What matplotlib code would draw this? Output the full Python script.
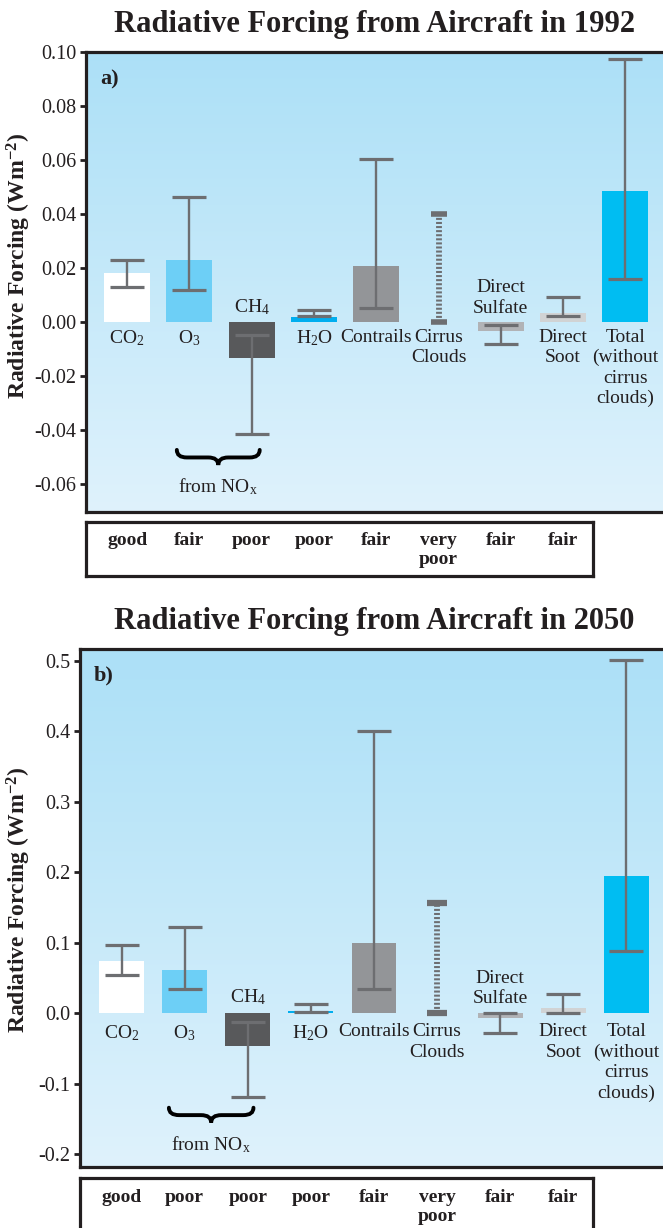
import numpy as np
import matplotlib
matplotlib.use('Agg')
import matplotlib.pyplot as plt
from matplotlib.path import Path
from matplotlib.patches import PathPatch
from matplotlib.ticker import FormatStrFormatter

plt.rcParams['font.family'] = 'Liberation Serif'
plt.rcParams['mathtext.fontset'] = 'custom'
plt.rcParams['mathtext.rm'] = 'Liberation Serif'
plt.rcParams['mathtext.it'] = 'Liberation Serif:italic'
plt.rcParams['mathtext.bf'] = 'Liberation Serif:bold'
plt.rcParams['axes.unicode_minus'] = False

# ---- data ----
labels = ['CO$_2$', 'O$_3$', 'CH$_4$', 'H$_2$O', 'Contrails', 'Cirrus\nClouds',
          'Direct\nSulfate', 'Direct\nSoot', 'Total\n(without\ncirrus\nclouds)']
bar_colors = ['#ffffff', '#6dcff6', '#58595b', '#00aeef', '#939598', 'none',
              '#b1b3b6', '#d1d3d4', '#00bdf2']

rf_1992 = [0.018, 0.023, -0.0135, 0.0018, 0.0205, np.nan, -0.0033, 0.0032, 0.0485]
lo_1992 = [0.013, 0.0117, -0.0416, 0.0021, 0.005, 0.0, -0.0084, 0.0021, 0.0158]
hi_1992 = [0.023, 0.0463, -0.0049, 0.0045, 0.0604, 0.040, -0.0012, 0.009, 0.0973]
conf_1992 = ['good', 'fair', 'poor', 'poor', 'fair', 'very\npoor', 'fair', 'fair']

rf_2050 = [0.074, 0.0615, -0.046, 0.0028, 0.0998, np.nan, -0.007, 0.0075, 0.195]
lo_2050 = [0.0548, 0.034, -0.119, 0.002, 0.034, 0.0, -0.028, 0.0, 0.088]
hi_2050 = [0.0965, 0.122, -0.0128, 0.013, 0.401, 0.156, 0.0, 0.027, 0.501]
conf_2050 = ['good', 'poor', 'poor', 'poor', 'fair', 'very\npoor', 'fair', 'fair']

W, H = 663, 1228
ec = '#6d6e71'
ink = '#231f20'
top_col = np.array([172, 224, 247]) / 255
bot_col = np.array([223, 242, 252]) / 255


def fx(p):
    return p / W


def fy(p):
    return 1 - p / H


def brace(ax, x0, x1, ytop, ybot):
    xm = (x0 + x1) / 2
    ym = (ytop + ybot) / 2
    q = 0.12 * (x1 - x0)
    verts = [(x0, ytop), (x0, ym), (x0 + q, ym), (xm - q, ym), (xm, ym), (xm, ybot),
             (xm, ym), (xm + q, ym), (x1 - q, ym), (x1, ym), (x1, ytop)]
    codes = [Path.MOVETO, Path.CURVE3, Path.CURVE3, Path.LINETO, Path.CURVE3, Path.CURVE3,
             Path.CURVE3, Path.CURVE3, Path.LINETO, Path.CURVE3, Path.CURVE3]
    ax.add_patch(PathPatch(Path(verts, codes), fc='none', ec='black', lw=2.8,
                           zorder=4, capstyle='round'))


def panel(ax, tab, rf, lo, hi, conf, barw, yticks, fmt, below_off, above_off,
          brace_y, nox_y, cap_ms, cap_mew, tab_off):
    grad = np.linspace(top_col, bot_col, 256)[:, None, :]
    ax.imshow(grad, extent=[0, 1, 0, 1], transform=ax.transAxes, aspect='auto', zorder=0)

    x = np.arange(len(labels))
    rf = np.array(rf)
    lo = np.array(lo)
    hi = np.array(hi)
    ok = ~np.isnan(rf)
    ax.bar(x[ok], rf[ok], width=barw, color=np.array(bar_colors)[ok], zorder=2)

    eb = np.array([i != 5 for i in x])
    mid = (lo + hi) / 2
    ax.errorbar(x[eb], mid[eb], yerr=[mid[eb] - lo[eb], hi[eb] - mid[eb]], fmt='none',
                ecolor=ec, elinewidth=1.7, capsize=12, capthick=2.3, zorder=3)
    # cirrus clouds: dotted range only
    ax.vlines(5, lo[5], hi[5], colors=ec, lw=4.2, linestyles=(0, (0.35, 0.35)), zorder=3)
    ax.plot([5, 5], [lo[5], hi[5]], ls='none', marker='_', ms=cap_ms, mew=cap_mew,
            color=ec, zorder=3)

    for i, lab in enumerate(labels):
        if not np.isnan(rf[i]) and rf[i] < 0:
            ax.annotate(lab, (i, 0), xytext=(0, above_off), textcoords='offset pixels',
                        ha='center', va='bottom', fontsize=14, color=ink,
                        linespacing=1.25, zorder=5)
        else:
            ax.annotate(lab, (i, 0), xytext=(0, below_off), textcoords='offset pixels',
                        ha='center', va='top', fontsize=14, color=ink,
                        linespacing=1.25, zorder=5)

    brace(ax, brace_y[0], brace_y[1], brace_y[2], brace_y[3])
    ax.text((brace_y[0] + brace_y[1]) / 2, nox_y, 'from NO$_\\mathrm{x}$', ha='center',
            va='center', fontsize=14, color=ink)

    ax.set_yticks(yticks)
    ax.yaxis.set_major_formatter(FormatStrFormatter(fmt))
    ax.tick_params(axis='y', length=4, width=2, pad=3, labelsize=14.5, direction='out',
                   colors=ink)
    ax.tick_params(axis='x', bottom=False, labelbottom=False)
    for s in ['left', 'top', 'bottom']:
        ax.spines[s].set_linewidth(2.3)
        ax.spines[s].set_color(ink)
    ax.spines['right'].set_visible(False)

    # confidence table; y axis in pixels from the box top
    for i, c in enumerate(conf):
        tab.text(i, tab_off, c, ha='center', va='top', fontsize=14, fontweight='bold',
                 linespacing=1.15, color=ink)
    tab.set_xticks([])
    tab.set_yticks([])
    for s in tab.spines.values():
        s.set_linewidth(2.3)
        s.set_color(ink)


fig = plt.figure(figsize=(W / 100, H / 100), dpi=100)

# panel a (1992)
ax1 = fig.add_axes([fx(85.8), fy(512), fx(663 - 85.8), (512 - 51.7) / H])
tab1 = fig.add_axes([fx(86), fy(576), fx(593 - 86), (576 - 522.3) / H])
panel(ax1, tab1, rf_1992, lo_1992, hi_1992, conf_1992, 0.74,
      np.arange(-0.06, 0.101, 0.02), '%.2f', -7, 5,
      (0.8, 2.13, -0.0475, -0.0531), -0.0612, 11.5, 4, 10)
ax1.set_xlim(-0.661, 8.603)
ax1.set_ylim(-0.0705, 0.10)
tab1.set_xlim(-0.661, 7.48)
tab1.set_ylim(576 - 522.3, 0)

# panel b (2050)
ax2 = fig.add_axes([fx(80.3), fy(1166.7), fx(663 - 80.3), (1166.7 - 649) / H])
tab2 = fig.add_axes([fx(80.3), fy(1232), fx(592.8 - 80.3), (1232 - 1178.3) / H])
panel(ax2, tab2, rf_2050, lo_2050, hi_2050, conf_2050, 0.71,
      np.arange(-0.2, 0.51, 0.1), '%.1f', -10, 6,
      (0.75, 2.09, -0.134, -0.155), -0.187, 14, 4.5, 11)
ax2.set_xlim(-0.654, 8.58)
ax2.set_ylim(-0.2177, 0.517)
tab2.set_xlim(-0.654, 7.467)
tab2.set_ylim(1232 - 1178.3, 0)

# titles, panel letters, y labels
fig.text(fx(375), fy(32.3), 'Radiative Forcing from Aircraft in 1992', ha='center',
         va='baseline', fontsize=22, fontweight='bold', color=ink)
fig.text(fx(374), fy(629.3), 'Radiative Forcing from Aircraft in 2050', ha='center',
         va='baseline', fontsize=22, fontweight='bold', color=ink)
fig.text(fx(110), fy(79), 'a)', ha='center', va='center', fontsize=16,
         fontweight='bold', color=ink)
fig.text(fx(104), fy(675), 'b)', ha='center', va='center', fontsize=16,
         fontweight='bold', color=ink)
ylab = 'Radiative Forcing (Wm$^{\\mathbf{-2}}$)'
fig.text(fx(19), fy(266), ylab, rotation=90, ha='center', va='center', fontsize=17,
         fontweight='bold', color=ink)
fig.text(fx(19), fy(900), ylab, rotation=90, ha='center', va='center', fontsize=17,
         fontweight='bold', color=ink)

fig.savefig('out.png', dpi=100)
